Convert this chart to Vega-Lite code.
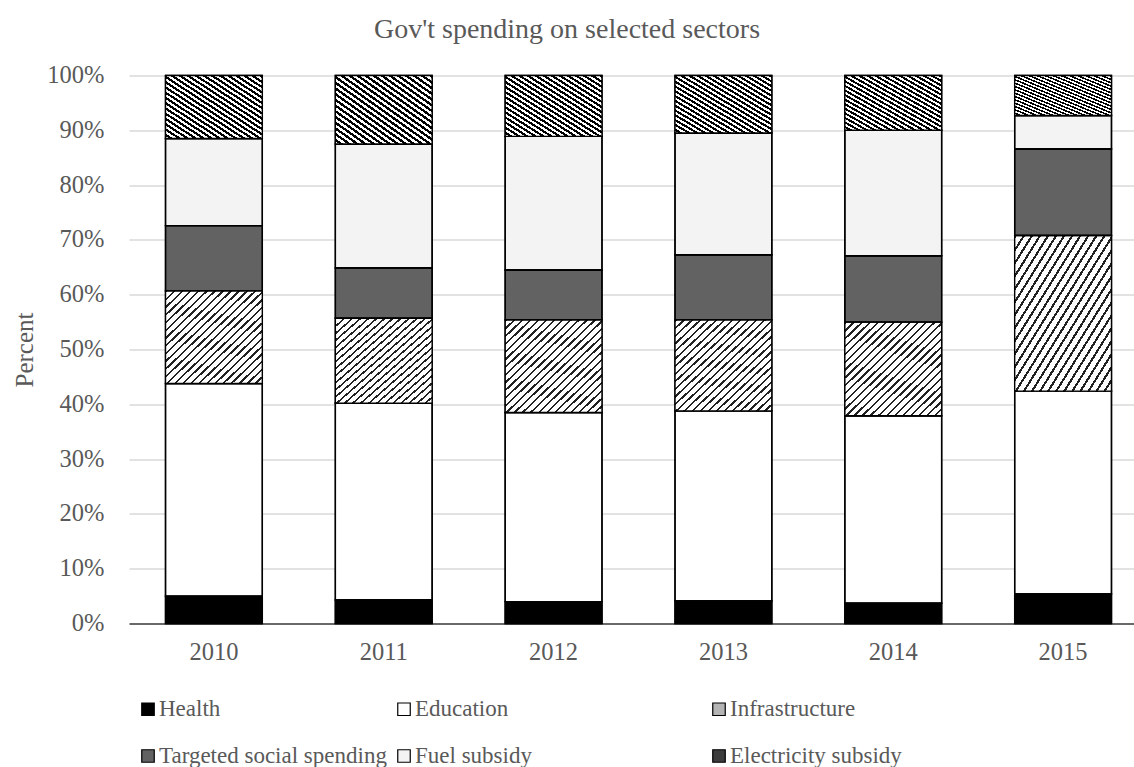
{
  "$schema": "https://vega.github.io/schema/vega-lite/v6.json",
  "autosize": "none",
  "width": 1005,
  "height": 548,
  "padding": {"left": 129, "top": 75.5, "right": 0, "bottom": 143.5},
  "background": "white",
  "title": {
    "text": "Gov't spending on selected sectors",
    "font": "Liberation Serif",
    "fontSize": 28,
    "fontWeight": "normal",
    "color": "#595959",
    "anchor": "middle",
    "frame": "group",
    "dx": -64.5,
    "offset": 19
  },
  "data": {
    "values": [
      {"year": "2010", "sector": "Health", "value": 5.0},
      {"year": "2010", "sector": "Education", "value": 38.8},
      {"year": "2010", "sector": "Infrastructure", "value": 16.9},
      {"year": "2010", "sector": "Targeted social spending", "value": 11.9},
      {"year": "2010", "sector": "Fuel subsidy", "value": 15.9},
      {"year": "2010", "sector": "Electricity subsidy", "value": 11.5},
      {"year": "2011", "sector": "Health", "value": 4.3},
      {"year": "2011", "sector": "Education", "value": 35.9},
      {"year": "2011", "sector": "Infrastructure", "value": 15.5},
      {"year": "2011", "sector": "Targeted social spending", "value": 9.2},
      {"year": "2011", "sector": "Fuel subsidy", "value": 22.6},
      {"year": "2011", "sector": "Electricity subsidy", "value": 12.5},
      {"year": "2012", "sector": "Health", "value": 4.0},
      {"year": "2012", "sector": "Education", "value": 34.5},
      {"year": "2012", "sector": "Infrastructure", "value": 16.9},
      {"year": "2012", "sector": "Targeted social spending", "value": 9.1},
      {"year": "2012", "sector": "Fuel subsidy", "value": 24.4},
      {"year": "2012", "sector": "Electricity subsidy", "value": 11.1},
      {"year": "2013", "sector": "Health", "value": 4.1},
      {"year": "2013", "sector": "Education", "value": 34.7},
      {"year": "2013", "sector": "Infrastructure", "value": 16.6},
      {"year": "2013", "sector": "Targeted social spending", "value": 11.9},
      {"year": "2013", "sector": "Fuel subsidy", "value": 22.2},
      {"year": "2013", "sector": "Electricity subsidy", "value": 10.5},
      {"year": "2014", "sector": "Health", "value": 3.7},
      {"year": "2014", "sector": "Education", "value": 34.2},
      {"year": "2014", "sector": "Infrastructure", "value": 17.1},
      {"year": "2014", "sector": "Targeted social spending", "value": 12.1},
      {"year": "2014", "sector": "Fuel subsidy", "value": 22.9},
      {"year": "2014", "sector": "Electricity subsidy", "value": 10.0},
      {"year": "2015", "sector": "Health", "value": 5.4},
      {"year": "2015", "sector": "Education", "value": 37.0},
      {"year": "2015", "sector": "Infrastructure", "value": 28.4},
      {"year": "2015", "sector": "Targeted social spending", "value": 15.8},
      {"year": "2015", "sector": "Fuel subsidy", "value": 6.1},
      {"year": "2015", "sector": "Electricity subsidy", "value": 7.3}
    ]
  },
  "transform": [
    {"calculate": "indexof(['Health','Education','Infrastructure','Targeted social spending','Fuel subsidy','Electricity subsidy'], datum.sector)", "as": "k"}
  ],
  "encoding": {
    "x": {
      "field": "year",
      "type": "nominal",
      "scale": {"range": [0, 1019], "paddingInner": 0.43, "paddingOuter": 0.215},
      "axis": {
        "title": null,
        "labelAngle": 0,
        "labelPadding": 17,
        "ticks": false,
        "grid": false,
        "domain": true,
        "domainColor": "#404040",
        "domainWidth": 1.3
      }
    },
    "y": {
      "field": "value",
      "type": "quantitative",
      "stack": "normalize",
      "scale": {"domain": [0, 1]},
      "axis": {
        "values": [0, 0.1, 0.2, 0.3, 0.4, 0.5, 0.6, 0.7, 0.8, 0.9, 1],
        "format": ".0%",
        "title": "Percent",
        "titleX": -97,
        "titleY": 274,
        "titleAngle": -90,
        "titleAlign": "center",
        "titleBaseline": "alphabetic",
        "titleFontSize": 25,
        "titleFont": "Liberation Serif",
        "titleFontWeight": "normal",
        "titleColor": "#595959",
        "labelPadding": 25,
        "ticks": false,
        "domain": false,
        "grid": true,
        "gridColor": "#d9d9d9",
        "gridWidth": 1.3
      }
    },
    "order": {"field": "k", "type": "quantitative"}
  },
  "layer": [
    {
      "mark": {"type": "bar", "stroke": "#000000", "strokeWidth": 1.4},
      "encoding": {
        "color": {
          "field": "sector",
          "type": "nominal",
          "sort": ["Health", "Education", "Infrastructure", "Targeted social spending", "Fuel subsidy", "Electricity subsidy"],
          "scale": {
            "domain": ["Health", "Education", "Infrastructure", "Targeted social spending", "Fuel subsidy", "Electricity subsidy"],
            "range": ["#000000", "#ffffff", "#b4b4b4", "#626262", "#f3f3f3", "#3c3c3c"]
          },
          "legend": {
            "title": null,
            "orient": "none",
            "legendX": 7.5,
            "legendY": 622,
            "direction": "horizontal",
            "columns": 3,
            "columnPadding": 5,
            "rowPadding": 23,
            "padding": 0,
            "symbolType": "square",
            "symbolSize": 156,
            "symbolStrokeColor": "#000000",
            "symbolStrokeWidth": 1.2,
            "labelFont": "Liberation Serif",
            "labelFontSize": 23,
            "labelColor": "#595959",
            "labelOffset": -0.5,
            "labelLimit": 600,
            "labelExpr": "datum.label == 'Fuel subsidy' ? pad(datum.label, 22, '\u2800') : datum.label"
          }
        }
      }
    },
    {
      "mark": {"type": "bar", "stroke": "#000000", "strokeWidth": 1.4},
      "encoding": {
        "detail": {"field": "sector", "type": "nominal"},
        "fill": {
          "condition": [
            {
              "test": "datum.sector === 'Infrastructure'",
              "value": {
                "gradient": "linear", "x1": 0, "y1": 0, "x2": 1, "y2": 1,
                "stops": [
                  {"offset": 0, "color": "#222"}, {"offset": 0.0125, "color": "#222"}, {"offset": 0.0125, "color": "#fff"}, {"offset": 0.04167, "color": "#fff"},
                  {"offset": 0.04167, "color": "#222"}, {"offset": 0.05417, "color": "#222"}, {"offset": 0.05417, "color": "#fff"}, {"offset": 0.08333, "color": "#fff"},
                  {"offset": 0.08333, "color": "#222"}, {"offset": 0.09583, "color": "#222"}, {"offset": 0.09583, "color": "#fff"}, {"offset": 0.125, "color": "#fff"},
                  {"offset": 0.125, "color": "#222"}, {"offset": 0.1375, "color": "#222"}, {"offset": 0.1375, "color": "#fff"}, {"offset": 0.16667, "color": "#fff"},
                  {"offset": 0.16667, "color": "#222"}, {"offset": 0.17917, "color": "#222"}, {"offset": 0.17917, "color": "#fff"}, {"offset": 0.20833, "color": "#fff"},
                  {"offset": 0.20833, "color": "#222"}, {"offset": 0.22083, "color": "#222"}, {"offset": 0.22083, "color": "#fff"}, {"offset": 0.25, "color": "#fff"},
                  {"offset": 0.25, "color": "#222"}, {"offset": 0.2625, "color": "#222"}, {"offset": 0.2625, "color": "#fff"}, {"offset": 0.29167, "color": "#fff"},
                  {"offset": 0.29167, "color": "#222"}, {"offset": 0.30417, "color": "#222"}, {"offset": 0.30417, "color": "#fff"}, {"offset": 0.33333, "color": "#fff"},
                  {"offset": 0.33333, "color": "#222"}, {"offset": 0.34583, "color": "#222"}, {"offset": 0.34583, "color": "#fff"}, {"offset": 0.375, "color": "#fff"},
                  {"offset": 0.375, "color": "#222"}, {"offset": 0.3875, "color": "#222"}, {"offset": 0.3875, "color": "#fff"}, {"offset": 0.41667, "color": "#fff"},
                  {"offset": 0.41667, "color": "#222"}, {"offset": 0.42917, "color": "#222"}, {"offset": 0.42917, "color": "#fff"}, {"offset": 0.45833, "color": "#fff"},
                  {"offset": 0.45833, "color": "#222"}, {"offset": 0.47083, "color": "#222"}, {"offset": 0.47083, "color": "#fff"}, {"offset": 0.5, "color": "#fff"},
                  {"offset": 0.5, "color": "#222"}, {"offset": 0.5125, "color": "#222"}, {"offset": 0.5125, "color": "#fff"}, {"offset": 0.54167, "color": "#fff"},
                  {"offset": 0.54167, "color": "#222"}, {"offset": 0.55417, "color": "#222"}, {"offset": 0.55417, "color": "#fff"}, {"offset": 0.58333, "color": "#fff"},
                  {"offset": 0.58333, "color": "#222"}, {"offset": 0.59583, "color": "#222"}, {"offset": 0.59583, "color": "#fff"}, {"offset": 0.625, "color": "#fff"},
                  {"offset": 0.625, "color": "#222"}, {"offset": 0.6375, "color": "#222"}, {"offset": 0.6375, "color": "#fff"}, {"offset": 0.66667, "color": "#fff"},
                  {"offset": 0.66667, "color": "#222"}, {"offset": 0.67917, "color": "#222"}, {"offset": 0.67917, "color": "#fff"}, {"offset": 0.70833, "color": "#fff"},
                  {"offset": 0.70833, "color": "#222"}, {"offset": 0.72083, "color": "#222"}, {"offset": 0.72083, "color": "#fff"}, {"offset": 0.75, "color": "#fff"},
                  {"offset": 0.75, "color": "#222"}, {"offset": 0.7625, "color": "#222"}, {"offset": 0.7625, "color": "#fff"}, {"offset": 0.79167, "color": "#fff"},
                  {"offset": 0.79167, "color": "#222"}, {"offset": 0.80417, "color": "#222"}, {"offset": 0.80417, "color": "#fff"}, {"offset": 0.83333, "color": "#fff"},
                  {"offset": 0.83333, "color": "#222"}, {"offset": 0.84583, "color": "#222"}, {"offset": 0.84583, "color": "#fff"}, {"offset": 0.875, "color": "#fff"},
                  {"offset": 0.875, "color": "#222"}, {"offset": 0.8875, "color": "#222"}, {"offset": 0.8875, "color": "#fff"}, {"offset": 0.91667, "color": "#fff"},
                  {"offset": 0.91667, "color": "#222"}, {"offset": 0.92917, "color": "#222"}, {"offset": 0.92917, "color": "#fff"}, {"offset": 0.95833, "color": "#fff"},
                  {"offset": 0.95833, "color": "#222"}, {"offset": 0.97083, "color": "#222"}, {"offset": 0.97083, "color": "#fff"}, {"offset": 1, "color": "#fff"}
                ]
              }
            },
            {
              "test": "datum.sector === 'Electricity subsidy'",
              "value": {
                "gradient": "linear", "x1": 1, "y1": 0, "x2": 0, "y2": 1,
                "stops": [
                  {"offset": 0, "color": "#000"}, {"offset": 0.02083, "color": "#000"}, {"offset": 0.02083, "color": "#fff"}, {"offset": 0.04167, "color": "#fff"},
                  {"offset": 0.04167, "color": "#000"}, {"offset": 0.0625, "color": "#000"}, {"offset": 0.0625, "color": "#fff"}, {"offset": 0.08333, "color": "#fff"},
                  {"offset": 0.08333, "color": "#000"}, {"offset": 0.10417, "color": "#000"}, {"offset": 0.10417, "color": "#fff"}, {"offset": 0.125, "color": "#fff"},
                  {"offset": 0.125, "color": "#000"}, {"offset": 0.14583, "color": "#000"}, {"offset": 0.14583, "color": "#fff"}, {"offset": 0.16667, "color": "#fff"},
                  {"offset": 0.16667, "color": "#000"}, {"offset": 0.1875, "color": "#000"}, {"offset": 0.1875, "color": "#fff"}, {"offset": 0.20833, "color": "#fff"},
                  {"offset": 0.20833, "color": "#000"}, {"offset": 0.22917, "color": "#000"}, {"offset": 0.22917, "color": "#fff"}, {"offset": 0.25, "color": "#fff"},
                  {"offset": 0.25, "color": "#000"}, {"offset": 0.27083, "color": "#000"}, {"offset": 0.27083, "color": "#fff"}, {"offset": 0.29167, "color": "#fff"},
                  {"offset": 0.29167, "color": "#000"}, {"offset": 0.3125, "color": "#000"}, {"offset": 0.3125, "color": "#fff"}, {"offset": 0.33333, "color": "#fff"},
                  {"offset": 0.33333, "color": "#000"}, {"offset": 0.35417, "color": "#000"}, {"offset": 0.35417, "color": "#fff"}, {"offset": 0.375, "color": "#fff"},
                  {"offset": 0.375, "color": "#000"}, {"offset": 0.39583, "color": "#000"}, {"offset": 0.39583, "color": "#fff"}, {"offset": 0.41667, "color": "#fff"},
                  {"offset": 0.41667, "color": "#000"}, {"offset": 0.4375, "color": "#000"}, {"offset": 0.4375, "color": "#fff"}, {"offset": 0.45833, "color": "#fff"},
                  {"offset": 0.45833, "color": "#000"}, {"offset": 0.47917, "color": "#000"}, {"offset": 0.47917, "color": "#fff"}, {"offset": 0.5, "color": "#fff"},
                  {"offset": 0.5, "color": "#000"}, {"offset": 0.52083, "color": "#000"}, {"offset": 0.52083, "color": "#fff"}, {"offset": 0.54167, "color": "#fff"},
                  {"offset": 0.54167, "color": "#000"}, {"offset": 0.5625, "color": "#000"}, {"offset": 0.5625, "color": "#fff"}, {"offset": 0.58333, "color": "#fff"},
                  {"offset": 0.58333, "color": "#000"}, {"offset": 0.60417, "color": "#000"}, {"offset": 0.60417, "color": "#fff"}, {"offset": 0.625, "color": "#fff"},
                  {"offset": 0.625, "color": "#000"}, {"offset": 0.64583, "color": "#000"}, {"offset": 0.64583, "color": "#fff"}, {"offset": 0.66667, "color": "#fff"},
                  {"offset": 0.66667, "color": "#000"}, {"offset": 0.6875, "color": "#000"}, {"offset": 0.6875, "color": "#fff"}, {"offset": 0.70833, "color": "#fff"},
                  {"offset": 0.70833, "color": "#000"}, {"offset": 0.72917, "color": "#000"}, {"offset": 0.72917, "color": "#fff"}, {"offset": 0.75, "color": "#fff"},
                  {"offset": 0.75, "color": "#000"}, {"offset": 0.77083, "color": "#000"}, {"offset": 0.77083, "color": "#fff"}, {"offset": 0.79167, "color": "#fff"},
                  {"offset": 0.79167, "color": "#000"}, {"offset": 0.8125, "color": "#000"}, {"offset": 0.8125, "color": "#fff"}, {"offset": 0.83333, "color": "#fff"},
                  {"offset": 0.83333, "color": "#000"}, {"offset": 0.85417, "color": "#000"}, {"offset": 0.85417, "color": "#fff"}, {"offset": 0.875, "color": "#fff"},
                  {"offset": 0.875, "color": "#000"}, {"offset": 0.89583, "color": "#000"}, {"offset": 0.89583, "color": "#fff"}, {"offset": 0.91667, "color": "#fff"},
                  {"offset": 0.91667, "color": "#000"}, {"offset": 0.9375, "color": "#000"}, {"offset": 0.9375, "color": "#fff"}, {"offset": 0.95833, "color": "#fff"},
                  {"offset": 0.95833, "color": "#000"}, {"offset": 0.97917, "color": "#000"}, {"offset": 0.97917, "color": "#fff"}, {"offset": 1, "color": "#fff"}
                ]
              }
            }
          ],
          "value": "transparent"
        }
      }
    }
  ],
  "config": {
    "view": {"stroke": null},
    "font": "Liberation Serif",
    "axis": {
      "labelFont": "Liberation Serif",
      "labelFontSize": 24.5,
      "labelColor": "#595959"
    }
  }
}
